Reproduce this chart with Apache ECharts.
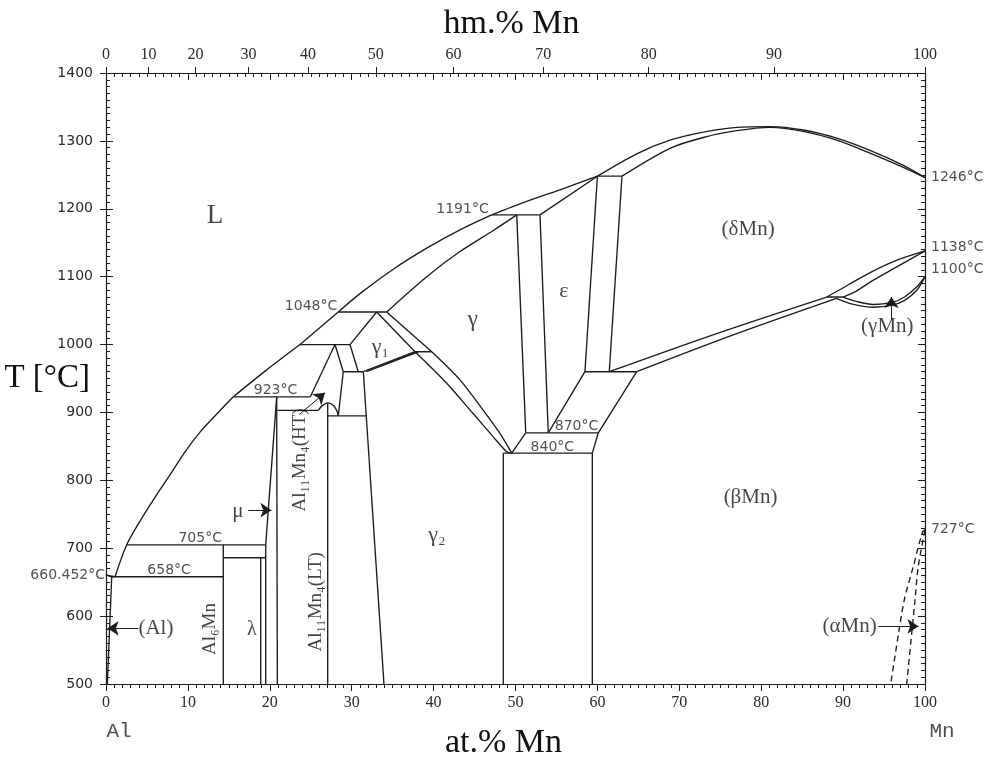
<!DOCTYPE html>
<html>
<head>
<meta charset="utf-8">
<script src="https://cdn.jsdelivr.net/npm/echarts@6/dist/echarts.min.js"></script>
<style>
  html, body { margin: 0; padding: 0; background: #ffffff; }
  #chart { width: 988px; height: 760px; }
</style>
</head>
<body>
<div id="chart"></div>
<script>
// Al–Mn phase diagram: composition in at.% Mn, temperature in °C.

// ---------- axes ----------
const tempRange = [500, 1400];
const compRange = [0, 100];
const wtTicks = [0, 10, 20, 30, 40, 50, 60, 70, 80, 90, 100];   // hm.% Mn tick labels
const M_AL = 26.982, M_MN = 54.938;                              // molar masses

// ---------- phase boundaries [at.% Mn, °C] ----------
const alMelting      = [[0.7, 658], [0, 660.45], [1.1, 658]];
const alSolvus       = [[0.16, 500], [0.7, 658]];
const liquidusA      = [[1.1, 658], [2.53, 705], [4.15, 740], [5.98, 775], [7.81, 808], [9.65, 842], [11.48, 871], [13.55, 898], [15.54, 923]];
const liquidusB      = [[15.54, 923], [19.54, 962], [23.69, 1000]];
const liquidusC      = [[23.69, 1000], [28.36, 1048]];
const liquidusD      = [[28.36, 1048], [31.01, 1075], [35.08, 1111], [39.16, 1142], [43.22, 1169], [47.09, 1191]];
const liquidusE      = [[47.09, 1191], [51.37, 1211], [55.43, 1228], [60.0, 1248]];
const deltaLiquidus  = [[60.0, 1248], [64.8, 1281], [68.86, 1301], [72.93, 1313], [77.01, 1320], [81.07, 1321], [85.14, 1316], [89.22, 1304], [93.28, 1286], [97.35, 1264], [100, 1246]];
const deltaSolidus   = [[63.0, 1248], [68.86, 1289], [72.93, 1305], [77.01, 1315], [81.07, 1320], [85.14, 1314], [89.22, 1301], [93.28, 1282], [97.35, 1261], [100, 1246]];
const peritectic1248 = [[60.0, 1248], [63.0, 1248]];
const epsSolidus     = [[52.99, 1191], [60.0, 1248]];
const iso1191        = [[47.09, 1191], [52.99, 1191]];
const gammaSolidus   = [[34.27, 1048], [39.16, 1100], [43.22, 1137], [47.29, 1168], [50.15, 1191]];
const iso1048        = [[28.36, 1048], [34.27, 1048]];
const gamma1Left     = [[29.79, 1000], [33.05, 1048]];
const gamma1Right    = [[33.05, 1048], [37.73, 989.4]];
const gammaUpperLeft = [[34.27, 1048], [39.77, 989.4]];
const iso990         = [[37.73, 989.4], [39.77, 989.4]];
const gamma1BottomA  = [[31.42, 960], [37.73, 989.4]];
const gamma1BottomB  = [[31.8, 960], [38.13, 989.4]];
const gammaLowerA    = [[37.73, 989.4], [41.6, 943], [44.85, 898], [47.29, 864], [48.93, 842], [49.54, 840]];
const gammaLowerB    = [[39.77, 989.4], [43.22, 948], [46.07, 903], [48.1, 869], [49.54, 840]];
const iso840         = [[48.51, 840], [59.38, 840]];
const gamma2Right    = [[48.51, 840], [48.51, 500]];
const betaLeft       = [[59.38, 840], [59.38, 500]];
const gamma840to870  = [[49.54, 840], [51.25, 870]];
const iso870         = [[51.25, 870], [60.11, 870]];
const beta870to840   = [[60.11, 870], [59.38, 840]];
const gammaEpsA      = [[50.15, 1191], [51.25, 870]];
const gammaEpsB      = [[52.99, 1191], [54.0, 870]];
const epsBetaA       = [[54.0, 870], [58.48, 960]];
const epsBetaB       = [[60.11, 870], [64.8, 960]];
const iso960Right    = [[58.48, 960], [64.8, 960]];
const epsDeltaA      = [[58.48, 960], [60.0, 1248]];
const epsDeltaB      = [[61.45, 960], [63.0, 1248]];
const deltaBetaA     = [[61.45, 960], [75, 1018], [88.0, 1070]];
const deltaBetaB     = [[64.8, 960], [77, 1016], [89.2, 1068]];
const iso1070        = [[88.0, 1070], [90.0, 1070]];
const deltaGammaA    = [[88.0, 1070], [90.5, 1087], [93.3, 1106], [96.5, 1124], [100, 1138]];
const deltaGammaB    = [[90.0, 1070], [91.5, 1078], [93.3, 1092], [96.5, 1114], [100, 1138]];
const gammaBetaA     = [[90.0, 1070], [91.5, 1064], [93.7, 1059], [96, 1062], [97.5, 1070], [99, 1085], [100, 1100]];
const gammaBetaB     = [[89.2, 1068], [91.0, 1060], [93.7, 1055], [96, 1058], [97.5, 1065], [99, 1080], [100, 1100]];
const iso960Left     = [[28.97, 960], [31.42, 960]];
const iso1000        = [[23.69, 1000], [29.79, 1000]];
const htLiquidus     = [[24.95, 923], [27.96, 1000]];
const ht1000to960    = [[27.96, 1000], [28.97, 960]];
const gamma1Foot     = [[29.79, 1000], [30.8, 960]];
const htRight        = [[28.97, 960], [28.36, 895]];
const iso895         = [[27.07, 895], [31.83, 895]];
const gamma2Left     = [[31.42, 960], [33.94, 500]];
const iso923         = [[15.54, 923], [24.95, 923]];
const htDome         = [[25.93, 903], [26.4, 910], [27.1, 914], [27.8, 910], [28.2, 902], [28.36, 895]];
const al11mn4Line    = [[27.07, 914], [27.07, 500]];
const iso903         = [[20.92, 903], [25.93, 903]];
const muRight        = [[20.84, 923], [20.92, 500]];
const muSlant        = [[20.84, 923], [19.5, 705]];
const muLeft         = [[19.5, 705], [19.5, 500]];
const lambdaLine     = [[18.89, 686], [18.89, 500]];
const iso686         = [[14.32, 686], [19.5, 686]];
const iso705         = [[2.53, 705], [19.5, 705]];
const al6mnLine      = [[14.32, 705], [14.32, 500]];
const iso658         = [[0.7, 658], [14.32, 658]];
const alphaMnA       = [[100, 727], [99.7, 724], [98.57, 673], [97.47, 624], [96.78, 575], [95.81, 500]];
const alphaMnB       = [[100, 727], [99.18, 673], [98.78, 624], [98.38, 575], [97.77, 500]];

// ---------- text ----------
const isoLabels = [
  ['1191°C', 47.09, 1191], ['1048°C', 28.36, 1048], ['923°C', 20.7, 923],
  ['705°C', 11.5, 705], ['658°C', 7.7, 658], ['660.452°C', 0, 660.45],
  ['840°C', 54.5, 840], ['870°C', 60.11, 870],
  ['1246°C', 100, 1246], ['1138°C', 100, 1143], ['1100°C', 100, 1111], ['727°C', 100, 728]
];
const phaseLabels = [
  ['L', 13.3, 1190], ['γ', 44.8, 1036], ['ε', 55.9, 1078], ['γ₁', 33.5, 996], ['γ₂', 40.4, 719],
  ['(δMn)', 78.4, 1169], ['(γMn)', 95.4, 1026], ['(βMn)', 78.7, 775], ['(αMn)', 90.8, 584],
  ['(Al)', 6.1, 582], ['λ', 17.8, 580], ['μ', 16.1, 754]
];
const compoundLabels = [
  ['Al₆Mn', 12.7, 581], ['Al₁₁Mn₄(HT)', 23.7, 830], ['Al₁₁Mn₄(LT)', 25.6, 621]
];
const arrows = [
  [[3.95, 582], [0.2, 582]],
  [[17.37, 756], [20.2, 756]],
  [[23.6, 897], [26.74, 929]],
  [[95.9, 1037], [95.9, 1070]],
  [[94.3, 585], [99.2, 585]]
];
const elementLabels = [['Al', 0, 500], ['Mn', 100, 500]];

// ---------- drawing ----------
const INK = '#1c1c1c';
const SANS = "'DejaVu Sans', sans-serif";
const SERIF = "'Liberation Serif', 'DejaVu Serif', serif";

function wtToAt(w) {
  if (w >= 100) return 100;
  const a = w / M_MN, b = (100 - w) / M_AL;
  return 100 * a / (a + b);
}
const wtTickAt = wtTicks.map(wtToAt);

const curved = new Set([liquidusA, liquidusB, liquidusD, liquidusE, deltaLiquidus, deltaSolidus,
  gammaSolidus, gammaLowerA, gammaLowerB, deltaBetaA, deltaBetaB, deltaGammaA, deltaGammaB,
  gammaBetaA, gammaBetaB, htDome, alphaMnA, alphaMnB]);
const dashed = new Set([alphaMnA, alphaMnB]);

const boundaries = [alMelting, alSolvus, liquidusA, liquidusB, liquidusC, liquidusD, liquidusE,
  deltaLiquidus, deltaSolidus, peritectic1248, epsSolidus, iso1191, gammaSolidus, iso1048,
  gamma1Left, gamma1Right, gammaUpperLeft, iso990, gamma1BottomA, gamma1BottomB, gammaLowerA,
  gammaLowerB, iso840, gamma2Right, betaLeft, gamma840to870, iso870, beta870to840, gammaEpsA,
  gammaEpsB, epsBetaA, epsBetaB, iso960Right, epsDeltaA, epsDeltaB, deltaBetaA, deltaBetaB,
  iso1070, deltaGammaA, deltaGammaB, gammaBetaA, gammaBetaB, iso960Left, iso1000, htLiquidus,
  ht1000to960, gamma1Foot, htRight, iso895, gamma2Left, iso923, htDome, al11mn4Line, iso903,
  muRight, muSlant, muLeft, lambdaLine, iso686, iso705, al6mnLine, iso658, alphaMnA, alphaMnB];

const series = boundaries.map(pts => ({
  type: 'line',
  data: pts,
  symbol: 'none',
  smooth: curved.has(pts) ? 0.3 : false,
  lineStyle: { color: INK, width: 1.35, type: dashed.has(pts) ? [6, 4] : 'solid' },
  silent: true,
  z: 3
}));

// isotherm temperature labels: alignment per label
const isoStyle = {
  '1191°C': { align: 'right', verticalAlign: 'bottom', offset: [-3, 1] },
  '1048°C': { align: 'right', verticalAlign: 'bottom', offset: [-1, 1] },
  '923°C':  { align: 'center', verticalAlign: 'bottom', offset: [0, 1] },
  '705°C':  { align: 'center', verticalAlign: 'bottom', offset: [0, 1] },
  '658°C':  { align: 'center', verticalAlign: 'bottom', offset: [0, 1] },
  '660.452°C': { align: 'right', verticalAlign: 'middle', offset: [-1, 0] },
  '840°C':  { align: 'center', verticalAlign: 'bottom', offset: [0, 1] },
  '870°C':  { align: 'right', verticalAlign: 'bottom', offset: [0, 1] },
  '1246°C': { align: 'left', verticalAlign: 'middle', offset: [6, 0] },
  '1138°C': { align: 'left', verticalAlign: 'middle', offset: [6, 0] },
  '1100°C': { align: 'left', verticalAlign: 'middle', offset: [6, 0] },
  '727°C':  { align: 'left', verticalAlign: 'middle', offset: [6, 0] }
};

const phaseSize = { 'L': 27, 'γ': 23, 'ε': 22, 'γ₁': 22, 'γ₂': 22, 'λ': 20, 'μ': 21 };

function textItem(text, x, y, lab) {
  return { value: [x, y], label: Object.assign({ show: true, formatter: text, color: '#151515' }, lab) };
}

const textData = []
  .concat(isoLabels.map(([t, x, y]) =>
    textItem(t, x, y, Object.assign({ fontFamily: SANS, fontSize: 14, color: '#262626' }, isoStyle[t]))))
  .concat(phaseLabels.map(([t, x, y]) =>
    textItem(t, x, y, { fontFamily: SERIF, fontSize: phaseSize[t] || 21, align: 'center', verticalAlign: 'middle' })))
  .concat(compoundLabels.map(([t, x, y]) =>
    textItem(t, x, y, { fontFamily: SERIF, fontSize: 19, align: 'center', verticalAlign: 'middle', rotate: 90 })))
  .concat(elementLabels.map(([t, x, y]) =>
    textItem(t, x, y, { fontFamily: "'Liberation Mono', monospace", fontSize: 21, color: '#222', align: 'center',
      verticalAlign: 'middle', offset: t === 'Al' ? [13, 47] : [17, 47] })));

series.push({
  type: 'scatter',
  data: textData,
  symbolSize: 0,
  silent: true,
  clip: false,
  label: { show: true, position: 'inside' },
  z: 5
});

series.push({
  type: 'lines',
  coordinateSystem: 'cartesian2d',
  data: arrows.map(c => ({ coords: c })),
  symbol: ['none', 'arrow'],
  symbolSize: [0, 11],
  lineStyle: { color: INK, width: 1, opacity: 1, curveness: 0 },
  silent: true,
  z: 4
});

const tickLine = { color: INK, width: 1 };
const noSplit = { splitLine: { show: false }, minorSplitLine: { show: false }, nameMoveOverlap: false };

const option = {
  animation: false,
  backgroundColor: '#ffffff',
  grid: { left: 106, right: 63, top: 73, bottom: 76, containLabel: false, outerBoundsMode: 'none' },
  xAxis: [
    Object.assign({
      type: 'value', position: 'bottom', min: compRange[0], max: compRange[1], interval: 10,
      axisLine: { onZero: false, lineStyle: { color: INK, width: 1.2 } },
      axisTick: { show: true, inside: false, length: 7, lineStyle: tickLine },
      minorTick: { show: true, splitNumber: 10, length: 4, lineStyle: tickLine },
      axisLabel: { margin: 11, fontFamily: SERIF, fontSize: 16, color: '#2a2a2a' },
      name: 'at.% Mn', nameLocation: 'middle', nameGap: 42,
      nameTextStyle: { fontFamily: SERIF, fontSize: 34, color: '#111', padding: [0, 24, 0, 0] }
    }, noSplit),
    Object.assign({
      type: 'value', position: 'top', min: compRange[0], max: compRange[1], interval: 10,
      axisLine: { onZero: false, lineStyle: { color: INK, width: 1.2 } },
      axisTick: { show: true, inside: true, length: 7, lineStyle: tickLine },
      minorTick: { show: true, splitNumber: 10, length: 4, lineStyle: tickLine },
      axisLabel: { show: false }
    }, noSplit),
    Object.assign({
      type: 'value', position: 'top', min: compRange[0], max: compRange[1],
      axisLine: { show: false, onZero: false },
      axisTick: { show: true, inside: false, length: 6, lineStyle: tickLine, customValues: wtTickAt },
      minorTick: { show: false },
      axisLabel: {
        margin: 10, fontFamily: SERIF, fontSize: 16, color: '#2a2a2a', customValues: wtTickAt,
        formatter: v => {
          const i = wtTickAt.findIndex(a => Math.abs(a - v) < 1e-6);
          return i >= 0 ? String(wtTicks[i]) : '';
        }
      },
      name: 'hm.% Mn', nameLocation: 'middle', nameGap: 32,
      nameTextStyle: { fontFamily: SERIF, fontSize: 34, color: '#111', padding: [0, 8, 0, 0] }
    }, noSplit)
  ],
  yAxis: [
    Object.assign({
      type: 'value', position: 'left', min: tempRange[0], max: tempRange[1], interval: 100,
      axisLine: { onZero: false, lineStyle: { color: INK, width: 1.2 } },
      axisTick: { show: true, inside: false, length: 6, lineStyle: tickLine },
      minorTick: { show: false },
      axisLabel: { margin: 13, fontFamily: SANS, fontSize: 14, color: '#2a2a2a', formatter: v => String(v) },
      name: 'T [°C]', nameLocation: 'middle', nameGap: 16, nameRotate: 0,
      nameTextStyle: { fontFamily: SERIF, fontSize: 33, color: '#111', align: 'right', verticalAlign: 'middle' }
    }, noSplit),
    Object.assign({
      type: 'value', position: 'left', min: tempRange[0], max: tempRange[1], interval: 100,
      axisLine: { show: false, onZero: false },
      axisTick: { show: true, inside: true, length: 7, lineStyle: tickLine },
      minorTick: { show: true, splitNumber: 10, length: 4, lineStyle: tickLine },
      axisLabel: { show: false }
    }, noSplit),
    Object.assign({
      type: 'value', position: 'right', min: tempRange[0], max: tempRange[1], interval: 100,
      axisLine: { onZero: false, lineStyle: { color: INK, width: 1.2 } },
      axisTick: { show: true, inside: true, length: 7, lineStyle: tickLine },
      minorTick: { show: true, splitNumber: 10, length: 4, lineStyle: tickLine },
      axisLabel: { show: false }
    }, noSplit)
  ],
  series: series
};

const chart = echarts.init(document.getElementById('chart'), null, { renderer: 'canvas' });
chart.setOption(option);
</script>
</body>
</html>
